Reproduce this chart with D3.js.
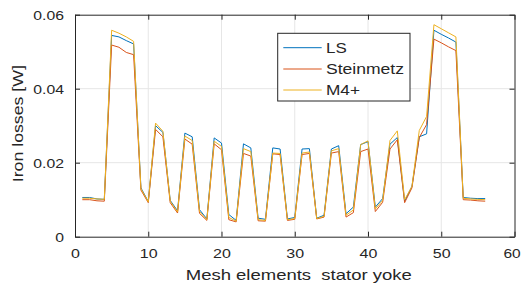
<!DOCTYPE html>
<head>
    <title>Iron losses</title>
    <script src="https://cdn.jsdelivr.net/npm/d3@7"></script>
    <style>
        body { margin: 0; background: #fff; }
        text { font-family: "Liberation Sans", Arial, sans-serif; fill: #262626; }
    </style>
</head>
<body>

<div id="container"></div>

<script>

// Chart size and plot box
const width = 522;
const height = 286;
const plotLeft = 75, plotRight = 514.5, plotTop = 14.7, plotBottom = 236.7;

// Data (mesh elements 1..56)
const elements = d3.range(1, 57);
const ls = [0.0106, 0.0106, 0.0102, 0.0101, 0.0544, 0.0540, 0.0530, 0.0521, 0.0132, 0.0095,
    0.0300, 0.0282, 0.0098, 0.0070, 0.0280, 0.0270, 0.0073, 0.0048, 0.0267, 0.0253,
    0.0060, 0.0044, 0.0251, 0.0240, 0.0050, 0.0047, 0.0240, 0.0237, 0.0048, 0.0052,
    0.0237, 0.0238, 0.0050, 0.0058, 0.0237, 0.0246, 0.0062, 0.0080, 0.0249, 0.0257,
    0.0080, 0.0103, 0.0250, 0.0268, 0.0096, 0.0136, 0.0270, 0.0278, 0.0558, 0.0547,
    0.0537, 0.0526, 0.0106, 0.0104, 0.0103, 0.0103];
const steinmetz = [0.0100, 0.0100, 0.0097, 0.0096, 0.0518, 0.0512, 0.0498, 0.0492, 0.0126, 0.0092,
    0.0290, 0.0270, 0.0092, 0.0064, 0.0264, 0.0250, 0.0063, 0.0044, 0.0251, 0.0235,
    0.0046, 0.0040, 0.0225, 0.0218, 0.0043, 0.0042, 0.0224, 0.0222, 0.0044, 0.0047,
    0.0222, 0.0225, 0.0048, 0.0053, 0.0226, 0.0230, 0.0053, 0.0065, 0.0230, 0.0237,
    0.0068, 0.0093, 0.0237, 0.0262, 0.0092, 0.0132, 0.0268, 0.0303, 0.0534, 0.0524,
    0.0513, 0.0503, 0.0100, 0.0099, 0.0097, 0.0096];
const m4plus = [0.0104, 0.0104, 0.0102, 0.0101, 0.0558, 0.0550, 0.0540, 0.0528, 0.0130, 0.0094,
    0.0307, 0.0285, 0.0096, 0.0067, 0.0272, 0.0260, 0.0068, 0.0046, 0.0258, 0.0244,
    0.0052, 0.0042, 0.0238, 0.0230, 0.0046, 0.0044, 0.0226, 0.0225, 0.0046, 0.0049,
    0.0226, 0.0229, 0.0049, 0.0055, 0.0232, 0.0238, 0.0058, 0.0072, 0.0249, 0.0259,
    0.0075, 0.0098, 0.0260, 0.0286, 0.0100, 0.0136, 0.0287, 0.0325, 0.0573, 0.0562,
    0.0551, 0.0540, 0.0104, 0.0102, 0.0101, 0.0100];

const seriesNames = ["LS", "Steinmetz", "M4+"];
const seriesValues = [ls, steinmetz, m4plus];
const colors = ["#0072BD", "#D95319", "#EDB120"];

const xTicks = [0, 10, 20, 30, 40, 50, 60];
const yTicks = [0, 0.02, 0.04, 0.06];

const svg = d3.create("svg")
    .attr("width", width)
    .attr("height", height);

const x = d3.scaleLinear().domain([0, 60]).range([plotLeft, plotRight]);
const y = d3.scaleLinear().domain([0, 0.06]).range([plotBottom, plotTop]);

// Grille
svg.append("g")
    .selectAll("line")
    .data(xTicks.slice(1, -1))
    .join("line")
    .attr("x1", d => x(d)).attr("x2", d => x(d))
    .attr("y1", plotTop).attr("y2", plotBottom)
    .attr("stroke", "#e6e6e6");
svg.append("g")
    .selectAll("line")
    .data(yTicks.slice(1, -1))
    .join("line")
    .attr("x1", plotLeft).attr("x2", plotRight)
    .attr("y1", d => y(d)).attr("y2", d => y(d))
    .attr("stroke", "#e6e6e6");

// Courbes
const line = d3.line()
    .x((d, i) => x(elements[i]))
    .y(d => y(d));

svg.append("g")
    .selectAll("path")
    .data(seriesValues)
    .join("path")
    .attr("d", line)
    .attr("fill", "none")
    .attr("stroke", (d, i) => colors[i])
    .attr("stroke-width", 1)
    .attr("stroke-linejoin", "round");

// Axes (ticks vers l'intérieur, style MATLAB)
const axisColor = "#262626";

const xAxis = svg.append("g")
    .attr("transform", `translate(0,${plotBottom})`)
    .call(d3.axisBottom(x).tickValues(xTicks).tickSizeInner(-5).tickSizeOuter(0).tickPadding(12.5));
// le "60" touche le bord droit : on le décale un peu
xAxis.selectAll("text")
    .style("font-size", "12.5px")
    .attr("transform", d => d === 60 ? "translate(-3,0) scale(1.24,1)" : "scale(1.28,1)");

const yAxis = svg.append("g")
    .attr("transform", `translate(${plotLeft},0)`)
    .call(d3.axisLeft(y).tickValues(yTicks).tickFormat(d => d === 0 ? "0" : d3.format(".2f")(d))
        .tickSizeInner(-5).tickSizeOuter(0));
yAxis.selectAll("text")
    .style("font-size", "12.5px")
    .attr("x", 0)
    .attr("dy", "0.42em")
    .attr("transform", "translate(-11,0) scale(1.26,1)");

svg.append("g")
    .attr("transform", `translate(0,${plotTop})`)
    .call(d3.axisTop(x).tickValues(xTicks).tickSizeInner(-5).tickSizeOuter(0).tickFormat(""));
svg.append("g")
    .attr("transform", `translate(${plotRight},0)`)
    .call(d3.axisRight(y).tickValues(yTicks).tickSizeInner(-5).tickSizeOuter(0).tickFormat(""));

svg.selectAll(".domain").attr("stroke", axisColor);
svg.selectAll(".tick line").attr("stroke", axisColor);

// Titres des axes
svg.append("text")
    .attr("x", (plotLeft + plotRight) / 2 + 4)
    .attr("y", 280)
    .attr("text-anchor", "middle")
    .style("font-size", "15px")
    .style("white-space", "pre")
    .attr("textLength", 226)
    .attr("lengthAdjust", "spacingAndGlyphs")
    .text("Mesh elements  stator yoke");

svg.append("text")
    .attr("transform", `translate(23,${(plotTop + plotBottom) / 2 - 2}) rotate(-90)`)
    .attr("text-anchor", "middle")
    .style("font-size", "14.5px")
    .attr("textLength", 117)
    .attr("lengthAdjust", "spacingAndGlyphs")
    .text("Iron losses [W]");

// Légende
const legend = svg.append("g")
    .attr("transform", "translate(277.7,33.3)");

legend.append("rect")
    .attr("width", 132.3)
    .attr("height", 67.7)
    .attr("fill", "#fff")
    .attr("stroke", axisColor)
    .attr("stroke-width", 1);

const rowY = [14.4, 35.7, 56.7];
const textLen = [20.7, 78, 34];

legend.selectAll("line")
    .data(seriesNames)
    .join("line")
    .attr("x1", 5.6).attr("x2", 44)
    .attr("y1", (d, i) => rowY[i]).attr("y2", (d, i) => rowY[i])
    .attr("stroke", (d, i) => colors[i])
    .attr("stroke-width", 1);

legend.selectAll("text")
    .data(seriesNames)
    .join("text")
    .attr("x", 48.3)
    .attr("y", (d, i) => rowY[i])
    .attr("dy", "0.36em")
    .style("font-size", "14px")
    .attr("textLength", (d, i) => textLen[i])
    .attr("lengthAdjust", "spacingAndGlyphs")
    .text(d => d);

document.getElementById("container").append(svg.node());

</script>

</body>
